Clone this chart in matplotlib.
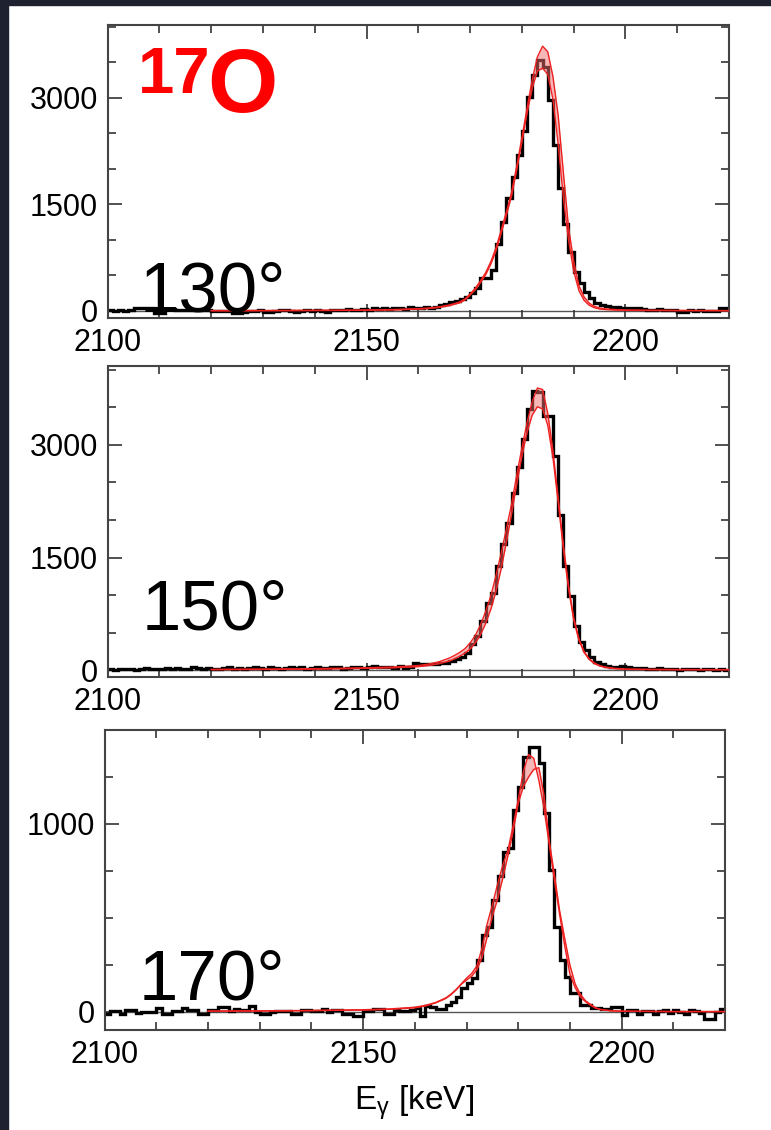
import numpy as np
import matplotlib
matplotlib.use("Agg")
import matplotlib.pyplot as plt
from matplotlib.ticker import MultipleLocator
from matplotlib.patches import Rectangle

plt.rcParams['font.family'] = ['Liberation Sans', 'DejaVu Sans']
plt.rcParams['mathtext.fontset'] = 'custom'
plt.rcParams['mathtext.rm'] = 'Liberation Sans'
plt.rcParams['mathtext.it'] = 'Liberation Sans'

# ---- spectra: counts per 1 keV bin, 2100 ... 2219 keV ----
bin_lo = 2100
bin_hi = 2220

counts_130 = [
    10, 5, 10, 5, 15, 40, 45, 40, 40, -25,
    -30, 25, 30, 20, 15, 20, 10, 15, 20, 10,
    0, 5, -5, 0, -25, -30, -20, 5, 0, 10,
    -10, -15, -5, 10, 15, 5, -10, 0, 10, -5,
    15, 5, -10, 10, 20, 10, 25, 15, 20, 30,
    20, 35, 25, 40, 30, 35, 45, 30, 50, 35,
    40, 60, 47, 60, 85, 95, 130, 140, 170, 200,
    250, 320, 460, 470, 580, 950, 1260, 1590, 1890, 2200,
    2530, 3020, 3320, 3530, 3440, 2970, 2340, 1730, 1230, 835,
    555, 390, 270, 180, 110, 80, 65, 55, 50, 45,
    40, 40, 35, 30, 20, 15, 25, 20, 10, 10,
    -15, -20, 10, 5, 10, 5, 0, 5, 40, 45,
]

counts_150 = [
    10, 5, 15, 10, 20, 5, 10, 25, 15, 10,
    20, 30, 15, 25, 10, 20, 35, 25, 15, 30,
    20, 10, 25, 35, 20, 30, 15, 25, 40, 30,
    20, 35, 25, 15, 30, 40, 25, 35, 20, 30,
    45, 30, 25, 40, 35, 20, 30, 45, 35, 25,
    40, 50, 35, 45, 40, 30, 50, 30, 35, 98,
    75, 75, 85, 85, 98, 98, 120, 142, 178, 231,
    342, 453, 653, 900, 1030, 1387, 1675, 1965, 2365, 2700,
    3075, 3475, 3720, 3700, 3380, 3380, 2850, 2060, 1390, 990,
    590, 370, 270, 180, 110, 75, 55, 45, 40, 50,
    35, 30, 25, 30, 20, 15, 25, 10, 20, 15,
    5, 10, 20, 15, 5, 10, 15, 5, 10, 0,
]

counts_170 = [
    -9, 5, 5, -9, 9, 9, -4, 0, 0, 0,
    23, -12, -12, 5, 5, 23, 12, 12, -9, -9,
    12, 12, 27, 27, 5, 18, 9, 9, 30, 0,
    -12, -12, 0, 5, 5, 5, -9, -9, 12, 12,
    5, 5, 18, 0, 9, 9, -9, -9, -23, -23,
    5, 5, 18, 18, -9, -9, 9, 5, 5, 12,
    20, -21, 32, 28, 14, 14, 37, 55, 82, 126,
    152, 179, 277, 410, 454, 596, 725, 853, 870, 1074,
    1198, 1358, 1411, 1411, 1323, 1057, 755, 454, 277, 188,
    99, 99, 37, 37, 20, 20, 15, 15, 27, 27,
    -15, 9, 9, -9, 5, 5, -9, 5, 12, -5,
    9, 0, -9, 9, 5, -5, -35, -35, 0, 18,
]

# ---- fitted line shape with its uncertainty band (lower / upper edge) ----
fit_e = [2120, 2130, 2140, 2150, 2155, 2160, 2162, 2164,
         2166, 2167, 2168, 2169, 2170, 2171, 2172, 2173, 2174, 2175,
         2176, 2177, 2178, 2179, 2180, 2181, 2182, 2183, 2184, 2185,
         2186, 2187, 2188, 2189, 2190, 2191, 2192, 2193, 2194, 2195,
         2196, 2198, 2200, 2205, 2210, 2220]

fit_130_lo = [3, 4, 6, 10, 15, 26, 35, 50,
              75, 95, 115, 155, 225, 300, 400, 510, 660, 850,
              1100, 1350, 1620, 1990, 2380, 2790, 3140, 3380, 3420, 3330,
              2980, 2350, 1600, 1000, 560, 290, 150, 80, 45, 28,
              20, 13, 9, 6, 5, 4]
fit_130_hi = [6, 7, 9, 14, 20, 32, 42, 58,
              85, 105, 128, 170, 240, 320, 425, 540, 695, 890,
              1140, 1395, 1670, 2040, 2440, 2860, 3260, 3580, 3730, 3650,
              3300, 2760, 1960, 1180, 700, 360, 200, 110, 65, 42,
              30, 20, 14, 10, 8, 6]

fit_150_lo = [5, 8, 12, 22, 30, 45, 60, 85,
              120, 150, 185, 225, 280, 360, 470, 620, 810, 1050,
              1350, 1700, 2080, 2480, 2850, 3170, 3400, 3510, 3480, 3260,
              2830, 2240, 1620, 1090, 670, 400, 235, 140, 85, 55,
              35, 18, 10, 6, 5, 4]
fit_150_hi = [8, 12, 18, 30, 40, 60, 80, 110,
              160, 195, 235, 285, 360, 460, 600, 780, 990, 1260,
              1560, 1880, 2210, 2600, 2960, 3300, 3580, 3760, 3740, 3420,
              2920, 2300, 1670, 1130, 700, 420, 250, 150, 95, 60,
              40, 22, 12, 8, 6, 5]

fit_170_lo = [4, 5, 7, 10, 14, 22, 32, 48,
              72, 92, 118, 148, 170, 190, 225, 290, 400, 510,
              600, 710, 830, 960, 1110, 1200, 1250, 1290, 1300, 1150,
              910, 730, 540, 390, 250, 150, 95, 60, 40, 22,
              13, 6, 4, 3, 2, 2]
fit_170_hi = [5, 6, 8, 12, 16, 25, 35, 50,
              75, 95, 120, 150, 180, 205, 245, 340, 470, 570,
              680, 780, 860, 990, 1130, 1280, 1370, 1350, 1230, 1080,
              890, 700, 520, 350, 200, 130, 80, 55, 35, 20,
              12, 6, 4, 3, 2, 2]

angle_labels = ['130°', '150°', '170°']

W, H = 771, 1130
fig = plt.figure(figsize=(W / 100, H / 100), dpi=100)
fig.patch.set_facecolor('white')

def px_box(left, right, top, bottom):
    return [left / W, 1 - bottom / H, (right - left) / W, (bottom - top) / H]

panels = [
    dict(box=px_box(107.7, 729.0, 25, 318), ylim=(-99, 4028), major=1500, minor=500,
         counts=counts_130, lo=fit_130_lo, hi=fit_130_hi, label=angle_labels[0],
         lab_xy=(140, 311)),
    dict(box=px_box(107.7, 729.0, 366, 677), ylim=(-93, 4053), major=1500, minor=500,
         counts=counts_150, lo=fit_150_lo, hi=fit_150_hi, label=angle_labels[1],
         lab_xy=(142, 630)),
    dict(box=px_box(104.7, 725.0, 730, 1030), ylim=(-96, 1500), major=1000, minor=250,
         counts=counts_170, lo=fit_170_lo, hi=fit_170_hi, label=angle_labels[2],
         lab_xy=(139, 1000)),
]

edges = np.arange(bin_lo, bin_hi + 1, 1)

for p in panels:
    ax = fig.add_axes(p['box'])
    ax.axhline(0, color='#555555', lw=1.0, zorder=1)
    ax.stairs(p['counts'], edges, color='black', lw=2.4, zorder=2)
    ax.fill_between(fit_e, p['lo'], p['hi'], color='#f07070', alpha=0.5, lw=0, zorder=3)
    ax.plot(fit_e, p['lo'], color='#ee2020', lw=1.0, zorder=4)
    ax.plot(fit_e, p['hi'], color='#ee2020', lw=1.0, zorder=4)

    ax.set_xlim(bin_lo, bin_hi)
    ax.set_ylim(*p['ylim'])
    ax.xaxis.set_major_locator(MultipleLocator(50))
    ax.xaxis.set_minor_locator(MultipleLocator(10))
    ax.yaxis.set_major_locator(MultipleLocator(p['major']))
    ax.yaxis.set_minor_locator(MultipleLocator(p['minor']))
    ax.tick_params(which='both', direction='in', top=True, right=True,
                   color='#333333', width=1.2, labelsize=22, pad=7)
    ax.tick_params(which='major', length=10)
    ax.tick_params(which='minor', length=6)
    for s in ax.spines.values():
        s.set_color('#444444')
        s.set_linewidth(1.5)

    lx, ly = p['lab_xy']
    fig.text(lx / W, 1 - ly / H, p['label'], fontsize=51, color='black',
             ha='left', va='baseline', zorder=10)

# isotope tag
fig.text(138 / W, 1 - 93 / H, '17', fontsize=47, fontweight='bold', color='#ff0000',
         ha='left', va='baseline')
fig.text(207 / W, 1 - 112 / H, 'O', fontsize=65, fontweight='bold', color='#ff0000',
         ha='left', va='baseline')

fig.text(414 / W, 1 - 1110 / H, r'E$_{\gamma}$ [keV]', fontsize=24, color='black',
         ha='center', va='baseline')

# dark window frame along the left and top edges
fig.patches.append(Rectangle((0, 0), 8 / W, 1, transform=fig.transFigure,
                             color='#1d2130', zorder=0))
fig.patches.append(Rectangle((0, 1 - 5 / H), 1, 5 / H, transform=fig.transFigure,
                             color='#1d2130', zorder=0))

fig.savefig('out.png', dpi=100)
